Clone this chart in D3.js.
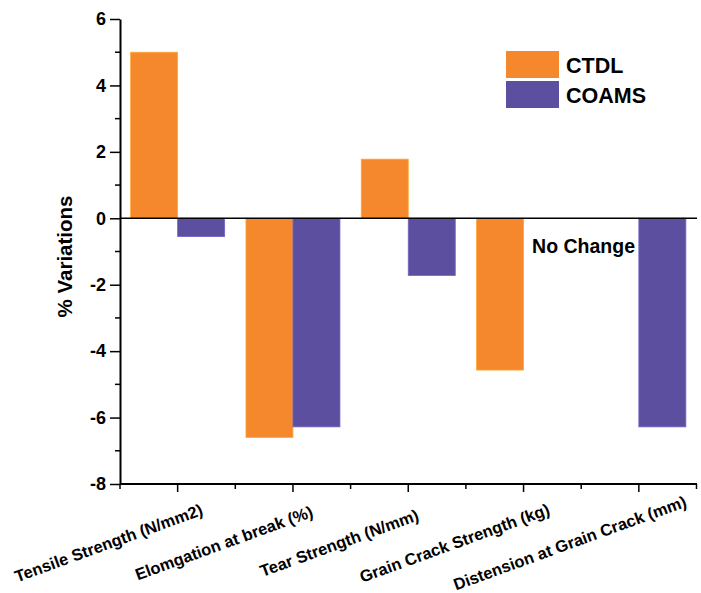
<!DOCTYPE html>
<meta http-equiv="Content-type" content="text/html; charset=UTF-8"/>
<style>
  body { margin: 0; background: #fff; }
  * { font-family: 'Liberation Sans', Arial, sans-serif; }
</style>
<svg width="701" height="593"></svg>
<script src="https://cdn.jsdelivr.net/npm/d3@7"></script>
<script>
var categories = ["Tensile Strength (N/mm2)", "Elomgation at break (%)", "Tear Strength (N/mm)",
                  "Grain Crack Strength (kg)", "Distension at Grain Crack (mm)"];
var series = ["CTDL", "COAMS"];
// null = no bar drawn
var ctdl  = [5.0, -6.6, 1.78, -4.57, null];
var coams = [-0.55, -6.28, -1.72, null, -6.28];
var yTicks = [-8, -6, -4, -2, 0, 2, 4, 6];
var colors = ["#F5882C", "#5C4FA0"];

var svg = d3.select("svg"),
    margin = {top: 19, right: 4, bottom: 109, left: 120},
    width = +svg.attr("width") - margin.left - margin.right,
    height = +svg.attr("height") - margin.top - margin.bottom,
    g = svg.append("g").attr("transform", "translate(" + margin.left + "," + margin.top + ")");

var x = d3.scaleBand().domain(categories).range([0, width - 0.5]);
var x1 = d3.scaleBand().domain(series).range([x.bandwidth() / 2 - 47, x.bandwidth() / 2 + 47]);
var y = d3.scaleLinear().domain([-8, 6]).range([height, 0]);

var rows = categories.map(function(c, i) {
  return {cat: c, vals: [{s: "CTDL", v: ctdl[i]}, {s: "COAMS", v: coams[i]}]};
});

// bars
var grp = g.selectAll(".grp").data(rows).enter().append("g")
    .attr("transform", function(d) { return "translate(" + x(d.cat) + ",0)"; });

grp.selectAll("rect")
    .data(function(d) { return d.vals.filter(function(e) { return e.v !== null; }); })
  .enter().append("rect")
    .attr("x", function(d) { return x1(d.s); })
    .attr("width", x1.bandwidth())
    .attr("y", function(d) { return y(Math.max(0, d.v)); })
    .attr("height", function(d) { return Math.abs(y(d.v) - y(0)); })
    .attr("fill", function(d) { return colors[series.indexOf(d.s)]; })
    .attr("stroke", function(d) { return d3.color(colors[series.indexOf(d.s)]).brighter(0.6); })
    .attr("stroke-width", 0.8);

// zero line
g.append("line")
    .attr("x1", 0).attr("x2", width)
    .attr("y1", y(0)).attr("y2", y(0))
    .attr("stroke", "#000").attr("stroke-width", 1.5);

// y axis
var yAxis = g.append("g")
    .call(d3.axisLeft(y).tickValues(yTicks).tickSize(10).tickSizeOuter(0).tickPadding(4)
      .tickFormat(function(d) { return String(d); }));
yAxis.selectAll("text").style("font-size", "18px").style("font-weight", "bold").attr("fill", "#000");
yAxis.select(".domain").attr("stroke-width", 2);
yAxis.selectAll(".tick line").attr("stroke-width", 1.5);

var yMinor = d3.range(-7, 6, 2);
g.append("g").selectAll("line").data(yMinor).enter().append("line")
    .attr("x1", -5).attr("x2", 0)
    .attr("y1", function(d) { return y(d); }).attr("y2", function(d) { return y(d); })
    .attr("stroke", "#000").attr("stroke-width", 1.5);

// x axis
var xAxis = g.append("g")
    .attr("transform", "translate(0," + height + ")")
    .call(d3.axisBottom(x).tickSize(8).tickSizeOuter(0).tickFormat(""));
xAxis.select(".domain").attr("stroke-width", 2).attr("d", "M0,0H" + width);
xAxis.selectAll(".tick line").attr("stroke-width", 1.5);

var xMinor = d3.range(categories.length + 1).map(function(i) { return i * x.step(); });
xAxis.append("g").selectAll("line").data(xMinor).enter().append("line")
    .attr("x1", function(d) { return d; }).attr("x2", function(d) { return d; })
    .attr("y1", 0).attr("y2", 5)
    .attr("stroke", "#000").attr("stroke-width", 1.5);

g.append("g").selectAll("text").data(categories).enter().append("text")
    .attr("transform", function(d) {
      return "translate(" + (x(d) + x.bandwidth() / 2 - 69) + "," + (height + 59) + ") rotate(-20)";
    })
    .attr("text-anchor", "middle")
    .attr("dy", "0.35em")
    .style("font-size", "16.5px")
    .style("font-weight", "bold")
    .text(function(d) { return d; });

// y title
g.append("text")
    .attr("transform", "translate(-55," + (height / 2 + 5) + ") rotate(-90)")
    .attr("text-anchor", "middle")
    .attr("dy", "0.35em")
    .style("font-size", "20.5px")
    .style("font-weight", "bold")
    .text("% Variations");

// no change note
g.append("text")
    .attr("x", x(categories[3]) + x.bandwidth() / 2 + 60)
    .attr("y", y(-1.05))
    .attr("text-anchor", "middle")
    .style("font-size", "19.5px")
    .style("font-weight", "bold")
    .text("No Change");

// legend
var legend = svg.append("g").attr("transform", "translate(506,51)");
var li = legend.selectAll("g").data(series).enter().append("g")
    .attr("transform", function(d, i) { return "translate(0," + (i * 30) + ")"; });
li.append("rect")
    .attr("width", 53).attr("height", 27)
    .attr("fill", function(d, i) { return colors[i]; });
li.append("text")
    .attr("x", 60).attr("y", 14).attr("dy", "0.35em")
    .style("font-size", "21.5px")
    .style("font-weight", "bold")
    .text(function(d) { return d; });
</script>
